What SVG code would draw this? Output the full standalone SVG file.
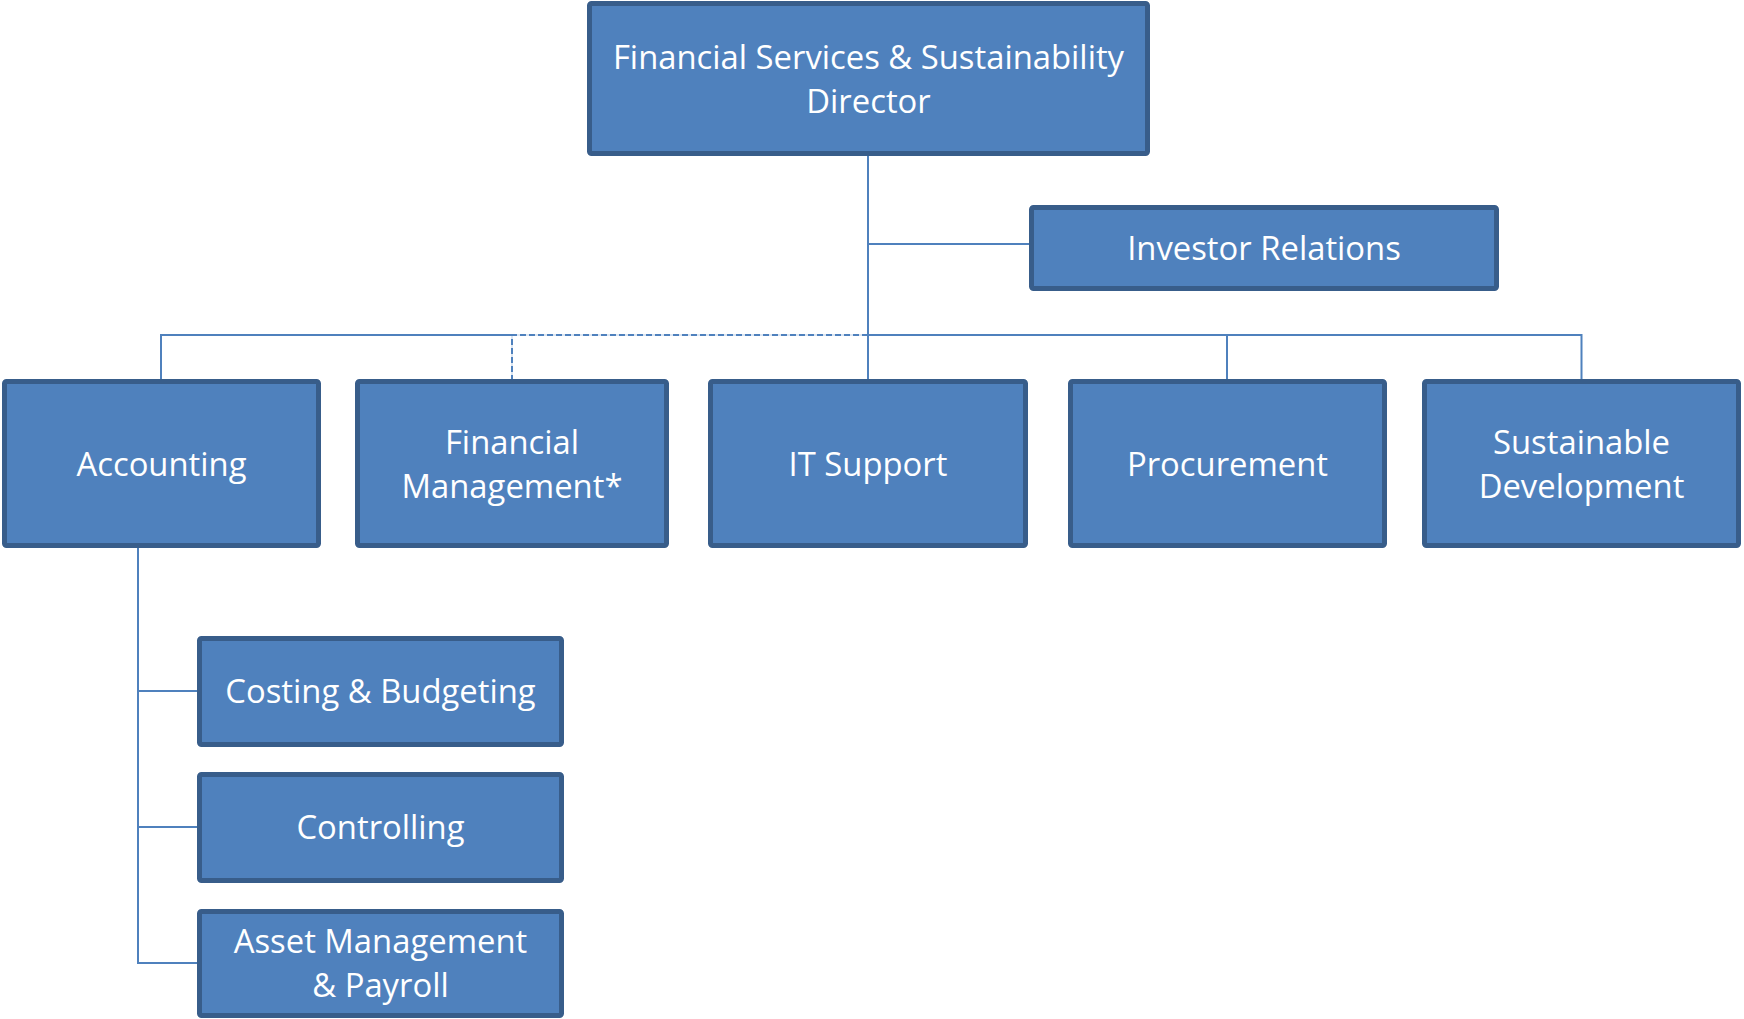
<svg xmlns="http://www.w3.org/2000/svg" width="1744" height="1019" viewBox="0 0 1744 1019">
<style>
.box{fill:#4f81bd;stroke:#385d8a;stroke-width:5}
.t{font-family:"Open Sans","Noto Sans",sans-serif;font-size:32.8px;fill:#ffffff;text-anchor:middle}
.c{fill:none;stroke:#4f81bd;stroke-width:2}
.d{fill:none;stroke:#4f81bd;stroke-width:2;stroke-dasharray:6 3}
.u{fill:none;stroke:#dce6f2;stroke-width:2}
</style>
<rect width="1744" height="1019" fill="#ffffff"/>
<g id="connectors">
<line class="c" x1="868" y1="155" x2="868" y2="380"/>
<line class="c" x1="868" y1="244" x2="1030" y2="244"/>
<polyline class="c" points="868,335 161,335 161,380"/>
<polyline class="c" points="868,335 1581.5,335 1581.5,380"/>
<line class="c" x1="1227" y1="335" x2="1227" y2="380"/>
<polyline class="u" points="868,335 512,335 512,380"/>
<polyline class="d" points="868,335 512,335 512,380"/>
<polyline class="c" points="138,547 138,963 198,963"/>
<line class="c" x1="138" y1="691" x2="198" y2="691"/>
<line class="c" x1="138" y1="827" x2="198" y2="827"/>
</g>
<g id="director">
<rect class="box" x="589.5" y="3.5" width="558" height="150" rx="2"/>
<text class="t" x="868.5" y="69">Financial Services &amp; Sustainability</text>
<text class="t" x="868.5" y="113">Director</text>
</g>
<g id="investor-relations">
<rect class="box" x="1031.5" y="207.5" width="465" height="81" rx="2"/>
<text class="t" x="1264" y="260">Investor Relations</text>
</g>
<g id="accounting">
<rect class="box" x="4.5" y="381.5" width="314" height="164" rx="2"/>
<text class="t" x="161.5" y="476">Accounting</text>
</g>
<g id="financial-management">
<rect class="box" x="357.5" y="381.5" width="309" height="164" rx="2"/>
<text class="t" x="512" y="454">Financial</text>
<text class="t" x="512" y="498">Management*</text>
</g>
<g id="it-support">
<rect class="box" x="710.5" y="381.5" width="315" height="164" rx="2"/>
<text class="t" x="868" y="476">IT Support</text>
</g>
<g id="procurement">
<rect class="box" x="1070.5" y="381.5" width="314" height="164" rx="2"/>
<text class="t" x="1227.5" y="476">Procurement</text>
</g>
<g id="sustainable-development">
<rect class="box" x="1424.5" y="381.5" width="314" height="164" rx="2"/>
<text class="t" x="1581.5" y="454">Sustainable</text>
<text class="t" x="1581.5" y="498">Development</text>
</g>
<g id="costing-budgeting">
<rect class="box" x="199.5" y="638.5" width="362" height="106" rx="2"/>
<text class="t" x="380.5" y="703">Costing &amp; Budgeting</text>
</g>
<g id="controlling">
<rect class="box" x="199.5" y="774.5" width="362" height="106" rx="2"/>
<text class="t" x="380.5" y="839">Controlling</text>
</g>
<g id="asset-management-payroll">
<rect class="box" x="199.5" y="911.5" width="362" height="104" rx="2"/>
<text class="t" x="380.5" y="953">Asset Management</text>
<text class="t" x="380.5" y="997">&amp; Payroll</text>
</g>
</svg>
